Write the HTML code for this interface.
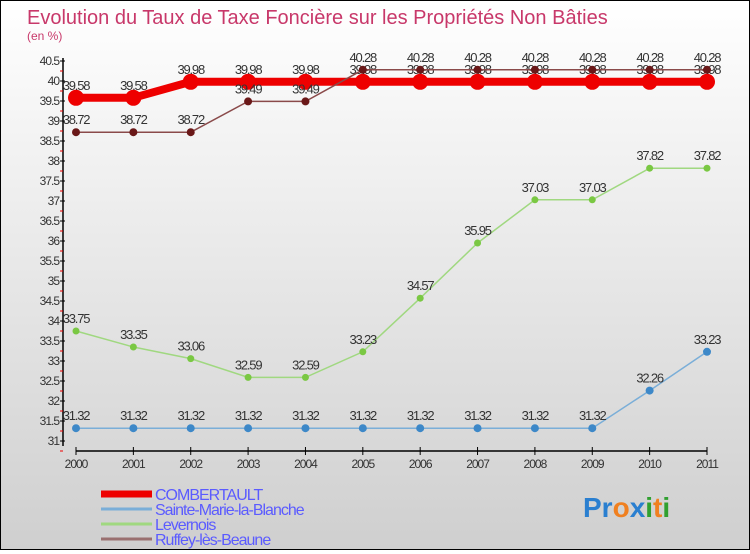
<!DOCTYPE html>
<html><head><meta charset="utf-8"><style>
body{margin:0;width:750px;height:550px;overflow:hidden;font-family:"Liberation Sans",sans-serif}
#c{position:absolute;left:0;top:0;width:748px;height:548px;border:1px solid #000;background:linear-gradient(#ffffff,#cfcfcf)}
</style></head><body>
<div id="c">
<svg id="s" width="748" height="548" xmlns="http://www.w3.org/2000/svg">
<text x="26" y="23" font-size="20" fill="#c8386a">Evolution du Taux de Taxe Foncière sur les Propriétés Non Bâties</text>
<text x="26" y="39" font-size="12" fill="#c8386a">(en %)</text>
<g id="axes"></g><g id="series"></g>
<g id="legend" font-size="16" fill="#5b5bff"></g>
<text x="582" y="516" font-size="28" font-weight="bold"><tspan fill="#2a7fd0">Pr</tspan><tspan fill="#f08020">o</tspan><tspan fill="#2a7fd0">x</tspan><tspan fill="#30a030">i</tspan><tspan fill="#f08020">t</tspan><tspan fill="#30a030">i</tspan></text>
</svg></div>
<script>
const years=[2000,2001,2002,2003,2004,2005,2006,2007,2008,2009,2010,2011];
const combertault=[39.58,39.58,39.98,39.98,39.98,39.98,39.98,39.98,39.98,39.98,39.98,39.98];
const sainteMarie=[31.32,31.32,31.32,31.32,31.32,31.32,31.32,31.32,31.32,31.32,32.26,33.23];
const levernois=[33.75,33.35,33.06,32.59,32.59,33.23,34.57,35.95,37.03,37.03,37.82,37.82];
const ruffey=[38.72,38.72,38.72,39.49,39.49,40.28,40.28,40.28,40.28,40.28,40.28,40.28];
const yTicks=[31,31.5,32,32.5,33,33.5,34,34.5,35,35.5,36,36.5,37,37.5,38,38.5,39,39.5,40,40.5];
const NS='http://www.w3.org/2000/svg';
const X=i=>75+i*(706-75)/11;
const Y=v=>440-(v-31)*40;
function mk(t,a,p){const e=document.createElementNS(NS,t);for(const k in a)e.setAttribute(k,a[k]);p.appendChild(e);return e;}
const ax=document.getElementById('axes');
let e=mk('line',{x1:62,y1:57,x2:62,y2:445,stroke:'#000','stroke-width':1.5},ax);


e=mk('line',{x1:75,y1:450,x2:706,y2:450,stroke:'#000','stroke-width':1.5},ax);


yTicks.forEach(v=>{
 mk('line',{x1:59,y1:Y(v),x2:64,y2:Y(v),stroke:'#000'},ax);
 mk('line',{x1:59,y1:Y(v)+10,x2:62,y2:Y(v)+10,stroke:'#e00'},ax);
 const t=mk('text',{x:58,y:Y(v)+4,'font-size':12,'text-anchor':'end',fill:'#333','letter-spacing':'-1'},ax);
 t.textContent=v;
 
 
});
years.forEach((y,i)=>{
 mk('line',{x1:X(i),y1:446,x2:X(i),y2:454,stroke:'#000'},ax);
 const t=mk('text',{x:X(i),y:467,'font-size':12,'text-anchor':'middle',fill:'#333','letter-spacing':'-1'},ax);
 t.textContent=y;
 
 
});
const sg=document.getElementById('series');
function series(vals,color,w,r,dot,name){
 const g=mk('g',{},sg);
 
 
 mk('polyline',{points:vals.map((v,i)=>X(i)+','+Y(v)).join(' '),fill:'none',stroke:color,'stroke-width':w},g);
 vals.forEach((v,i)=>{
  const c=mk('circle',{cx:X(i),cy:Y(v),r:r,fill:dot},g);
  
  
  const t=mk('text',{x:X(i),y:Y(v)-8,'font-size':13,'text-anchor':'middle',fill:'#333','letter-spacing':'-1.2'},g);
  t.textContent=v;
  
  
 });
}
series(sainteMarie,'#7aaed8',1.5,4,'#3d88c8','sainte-marie-series');
series(levernois,'#a0d880',1.5,3.5,'#7ac843','levernois-series');
series(combertault,'#ee0000',8,8,'#ee0000','combertault-series');
series(ruffey,'#8a4a4a',1.5,4,'#6a1818','ruffey-series');
const lg=document.getElementById('legend');
[['COMBERTAULT','#ee0000',7],['Sainte-Marie-la-Blanche','#7aaed8',3],['Levernois','#a0d880',3],['Ruffey-lès-Beaune','#9a7070',3]].forEach((d,i)=>{
 const y=493+i*15;
 const g=mk('g',{},lg);
 
 
 mk('line',{x1:100,y1:y,x2:151,y2:y,stroke:d[1],'stroke-width':d[2]},g);
 const t=mk('text',{x:154,y:y+6,'letter-spacing':'-1'},g);
 t.textContent=d[0];
});
</script>
</body></html>
